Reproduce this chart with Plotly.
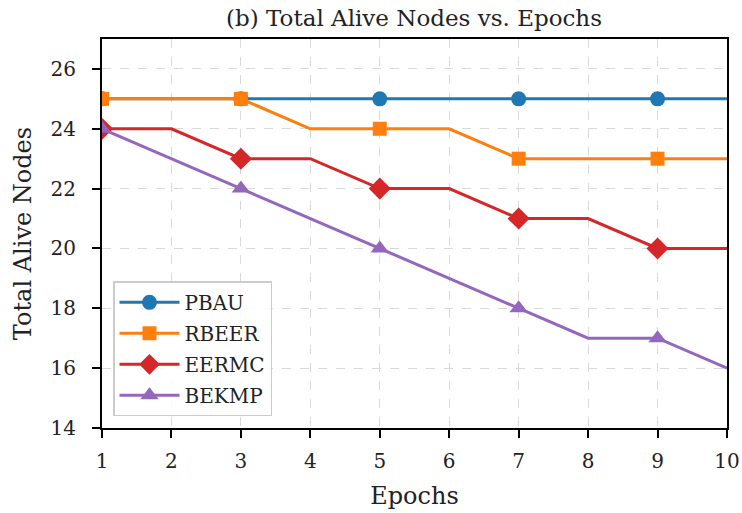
import plotly.graph_objects as go

epochs = [1, 2, 3, 4, 5, 6, 7, 8, 9, 10]
pbau = [25, 25, 25, 25, 25, 25, 25, 25, 25, 25]
rbeer = [25, 25, 25, 24, 24, 24, 23, 23, 23, 23]
eermc = [24, 24, 23, 23, 22, 22, 21, 21, 20, 20]
bekmp = [24, 23, 22, 21, 20, 19, 18, 17, 17, 16]
yticks = [14, 16, 18, 20, 22, 24, 26]

series = [
    ("PBAU", pbau, "#1f77b4", "circle", 15),
    ("RBEER", rbeer, "#ff7f0e", "square", 14),
    ("EERMC", eermc, "#d62728", "diamond", 17),
    ("BEKMP", bekmp, "#9467bd", "triangle-up", 16),
]

font = "DejaVu Serif"
fig = go.Figure()
for name, ys, col, sym, ms in series:
    fig.add_trace(go.Scatter(x=epochs, y=ys, mode="lines", line=dict(color=col, width=3),
                             showlegend=False, hoverinfo="skip", legendgroup=name))
    fig.add_trace(go.Scatter(x=epochs[::2], y=ys[::2], mode="markers", legendgroup=name,
                             marker=dict(color=col, size=ms, symbol=sym), showlegend=False))
    fig.add_trace(go.Scatter(x=[None], y=[None], mode="lines+markers", name=name, legendgroup=name,
                             line=dict(color=col, width=3),
                             marker=dict(color=col, size=ms, symbol=sym)))

axis_common = dict(
    showline=True, linecolor="black", linewidth=2.2, mirror=True, automargin=False,
    ticks="outside", ticklen=8, tickwidth=2.2, tickcolor="black",
    showgrid=True, gridcolor="#d9d9d9", griddash="dash", gridwidth=1,
    zeroline=False, tickfont=dict(family=font, size=20, color="#222"),
)

fig.update_layout(
    width=742, height=513,
    plot_bgcolor="white", paper_bgcolor="white",
    margin=dict(l=102, r=15, t=39, b=85),
    title=dict(text="(b) Total Alive Nodes vs. Epochs", x=0.558, xanchor="center",
               y=0.965, yanchor="middle", font=dict(family=font, size=23, color="#222")),
    xaxis=dict(range=[1, 10], tickvals=epochs, ticklabelstandoff=6,
               title=dict(text="Epochs", font=dict(family=font, size=24, color="#222"), standoff=15), **axis_common),
    yaxis=dict(range=[14, 27], tickvals=yticks, ticklabelstandoff=12,
               title=dict(text="Total Alive Nodes", font=dict(family=font, size=24, color="#222"), standoff=12), **axis_common),
    legend=dict(x=0.0176, y=0.03, xanchor="left", yanchor="bottom",
                bgcolor="rgba(255,255,255,0.85)", bordercolor="#cccccc", borderwidth=1.5,
                font=dict(family=font, size=20, color="#222"), itemwidth=60,
                traceorder="grouped", tracegroupgap=2),
)

fig.write_html("out.html", config={"displayModeBar": False},
               post_script="document.body.style.margin='0';document.documentElement.style.overflow='hidden';")
